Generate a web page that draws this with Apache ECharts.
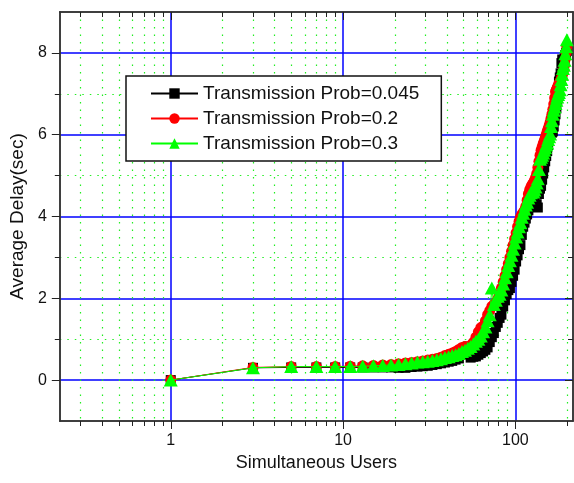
<!DOCTYPE html>
<html>
<head>
<meta charset="utf-8">
<script src="https://cdn.jsdelivr.net/npm/echarts@6/dist/echarts.min.js"></script>
<style>
html,body{margin:0;padding:0;background:#fff;}
#chart{width:574px;height:483px;}
</style>
</head>
<body>
<div id="chart"></div>
<script>
// ---- data ----
const users = [1,3,5,7,9,11,13,15,17,19,21,23,25,27,29,31,33,35,37,39,
  41,43,45,47,49,51,53,55,57,59,61,63,65,67,69,71,73,75,77,79,
  81,83,85,87,89,91,93,95,97,99,101,103,105,107,109,111,113,115,117,119,
  121,123,125,127,129,131,133,135,137,139,141,143,145,147,149,151,153,155,157,159,
  161,163,165,167,169,171,173,175,177,179,181,183,185,187,189,191,193,195,197,199];

const delayP045 = [0,0.30,0.31,0.31,0.31,0.31,0.31,0.31,0.31,0.31,0.30,0.30,0.32,0.33,0.34,0.35,0.37,0.39,0.41,0.43,
  0.45,0.47,0.50,0.53,0.62,0.78,0.82,0.55,0.57,0.58,0.62,0.66,0.70,0.74,0.80,0.93,1.05,1.15,1.30,1.40,
  1.52,1.60,1.80,1.95,2.10,2.20,2.25,2.40,2.55,2.70,2.90,3.05,3.20,3.30,3.55,3.75,3.85,3.95,4.05,4.15,
  4.25,4.35,4.42,4.48,4.52,4.58,4.30,4.22,4.55,4.68,4.75,4.90,5.05,5.20,5.35,5.48,5.60,5.75,6.00,6.10,
  6.15,6.05,6.08,6.20,6.35,6.50,6.65,6.85,7.05,7.30,7.40,7.50,7.75,7.84,7.70,7.75,7.85,7.95,8.00,8.05];

const delayP02 = [0,0.31,0.33,0.33,0.33,0.34,0.35,0.36,0.37,0.38,0.40,0.42,0.43,0.45,0.47,0.49,0.51,0.53,0.56,0.60,
  0.63,0.66,0.70,0.75,0.80,0.82,0.78,0.85,0.92,1.05,1.18,1.28,1.32,1.45,1.60,1.70,1.80,1.85,1.90,1.98,
  2.10,2.25,2.40,2.55,2.70,2.85,3.00,3.15,3.30,3.45,3.60,3.75,3.88,3.98,4.05,4.10,4.15,4.25,4.40,4.55,
  4.65,4.72,4.78,4.82,4.88,4.95,5.05,5.20,5.35,5.50,5.62,5.70,5.78,5.85,5.92,6.00,6.08,6.15,6.22,6.30,
  6.40,6.50,6.62,6.75,6.90,7.05,7.10,7.15,7.20,7.25,7.28,7.32,7.38,7.45,7.52,7.60,7.70,7.85,8.00,8.15];

const delayP03 = [0,0.30,0.33,0.33,0.33,0.33,0.34,0.35,0.36,0.37,0.38,0.40,0.42,0.44,0.45,0.46,0.48,0.50,0.52,0.55,
  0.57,0.60,0.62,0.65,0.70,0.73,0.78,0.82,0.88,0.95,1.00,1.08,1.18,1.30,1.45,1.60,2.25,1.85,1.95,2.05,
  2.10,2.20,2.35,2.50,2.65,2.80,2.92,3.05,3.20,3.35,3.50,3.62,3.75,3.85,3.98,4.08,4.18,4.28,4.35,4.45,
  4.52,4.58,4.62,4.60,4.65,4.72,4.82,4.92,5.15,5.40,5.45,5.50,5.55,5.62,5.68,5.75,5.80,5.88,5.95,6.02,
  6.20,6.34,6.50,6.60,6.68,6.76,6.84,6.92,6.98,7.03,7.10,7.22,7.35,7.48,7.62,7.70,7.82,7.98,8.15,8.32];

const seriesNames = ['Transmission Prob=0.045','Transmission Prob=0.2','Transmission Prob=0.3'];
const xMajorTicks = [1,10,100];
const xMinorTicks = [0.3,0.4,0.5,0.6,0.7,0.8,0.9,2,3,4,5,6,7,8,9,20,30,40,50,60,70,80,90,200];
const yMajorTicks = [0,2,4,6,8];
const yMinorTicks = [1,3,5,7];
const xName = 'Simultaneous Users';
const yName = 'Average Delay(sec)';

// ---- chart ----
const FONT = 'Liberation Sans, Arial, sans-serif';
const chart = echarts.init(document.getElementById('chart'), null, {renderer:'canvas'});

function pairs(ys){ return users.map((u,i)=>[u, ys[i]]); }

const xMin = 0.227, xMax = 216;
const axisLineStyle = {color:'#333', width:1.5};
const blueGrid = {show:true, lineStyle:{color:'#0000ff', width:1.5}};
const greenGrid = {show:true, lineStyle:{color:'#22ee22', width:1.2, type:[1.5,6]}};

function xAx(pos, ticks, major, labels) {
  const inside = pos === 'top';
  return {
    type:'log', position:pos, min:xMin, max:xMax, logBase:10,
    axisLine:{show:true, onZero:false, lineStyle:axisLineStyle},
    axisTick:{show:true, customValues:ticks, inside:inside, length: major?8:5, lineStyle:{color:'#222', width:1}},
    axisLabel:{show:!!labels, customValues:ticks, fontFamily:FONT, fontSize:16, color:'#111', margin:12},
    splitLine: pos==='bottom' ? (major?blueGrid:greenGrid) : {show:false},
    minorTick:{show:false}, minorSplitLine:{show:false},
    name: labels ? xName : '', nameLocation:'middle', nameGap:32,
    nameTextStyle:{fontFamily:FONT, fontSize:18, color:'#111'}
  };
}
function yAx(pos, ticks, major, labels) {
  const inside = pos === 'right';
  return {
    type:'value', position:pos, min:-1, max:9,
    axisLine:{show:true, onZero:false, lineStyle:axisLineStyle},
    axisTick:{show:true, customValues:ticks, inside:inside, length: major?8:5, lineStyle:{color:'#222', width:1}},
    axisLabel:{show:!!labels, customValues:ticks, fontFamily:FONT, fontSize:16, color:'#111', margin:13},
    splitLine: pos==='left' ? (major?blueGrid:greenGrid) : {show:false},
    name: labels ? yName : '', nameLocation:'middle', nameGap:31,
    nameTextStyle:{fontFamily:FONT, fontSize:19, color:'#111'}
  };
}

const option = {
  animation:false,
  backgroundColor:'#fff',
  grid:{left:57, top:12, right:1, bottom:62, containLabel:false},
  xAxis:[
    xAx('bottom', xMajorTicks, true, true),
    xAx('bottom', xMinorTicks, false, false),
    xAx('top', xMajorTicks, true, false),
    xAx('top', xMinorTicks, false, false)
  ],
  yAxis:[
    yAx('left', yMajorTicks, true, true),
    yAx('left', yMinorTicks, false, false),
    yAx('right', yMajorTicks, true, false),
    yAx('right', yMinorTicks, false, false)
  ],
  legend:{
    orient:'vertical', left:126, top:76,
    padding:[8,22,8,24], itemGap:6, itemWidth:47, itemHeight:13,
    backgroundColor:'#fff', borderColor:'#111', borderWidth:1.5,
    textStyle:{fontFamily:FONT, fontSize:19, color:'#111', lineHeight:19},
    data:seriesNames
  },
  series:[
    {name:seriesNames[0], type:'line', data:pairs(delayP045), xAxisIndex:0, yAxisIndex:0,
     symbol:'rect', symbolSize:10, lineStyle:{color:'#000', width:1}, itemStyle:{color:'#000'},
     emphasis:{disabled:true}, z:3},
    {name:seriesNames[1], type:'line', data:pairs(delayP02), xAxisIndex:0, yAxisIndex:0,
     symbol:'circle', symbolSize:11, lineStyle:{color:'#ff0000', width:1}, itemStyle:{color:'#ff0000'},
     emphasis:{disabled:true}, z:4},
    {name:seriesNames[2], type:'line', data:pairs(delayP03), xAxisIndex:0, yAxisIndex:0,
     symbol:'triangle', symbolSize:[14,13], lineStyle:{color:'#00ff00', width:1}, itemStyle:{color:'#00ff00'},
     emphasis:{disabled:true}, z:5}
  ]
};
chart.setOption(option);
</script>
</body>
</html>
